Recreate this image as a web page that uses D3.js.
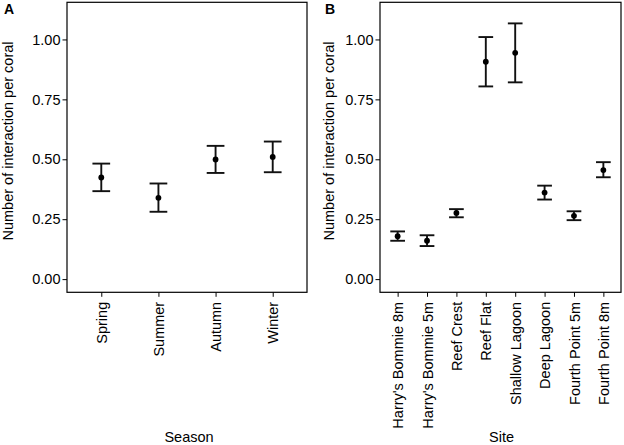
<!DOCTYPE html>
<html>
<head>
<meta charset="utf-8">
<script src="https://cdn.jsdelivr.net/npm/d3@7"></script>
<style>
  body { margin: 0; background: #fff; }
  svg text { font-family: "Liberation Sans", Arial, sans-serif; fill: #000; }
</style>
</head>
<body>
<svg id="chart" width="624" height="445"></svg>
<script>
// panel A: season means with error bars
const seasons = ['Spring', 'Summer', 'Autumn', 'Winter'];
const seasonMean = [0.424, 0.339, 0.499, 0.510];
const seasonLow = [0.367, 0.281, 0.443, 0.446];
const seasonHigh = [0.482, 0.399, 0.556, 0.574];

// panel B: site means with error bars
const sites = ["Harry's Bommie 8m", "Harry's Bommie 5m", 'Reef Crest', 'Reef Flat',
  'Shallow Lagoon', 'Deep Lagoon', 'Fourth Point 5m', 'Fourth Point 8m'];
const siteMean = [0.179, 0.160, 0.276, 0.907, 0.944, 0.361, 0.264, 0.455];
const siteLow = [0.160, 0.138, 0.258, 0.804, 0.821, 0.332, 0.246, 0.425];
const siteHigh = [0.199, 0.183, 0.292, 1.010, 1.067, 0.390, 0.283, 0.488];

const yTicks = [0, 0.25, 0.5, 0.75, 1];
const yTitle = 'Number of interaction per coral';

const svg = d3.select('#chart');
const plotTop = 2.3;
const plotBottom = 292.3;

const y = d3.scaleLinear().domain([-0.055, 1.155]).range([plotBottom, plotTop]);

function drawPanel(opts) {
  const g = svg.append('g');
  const x = d3.scalePoint()
    .domain(opts.cats)
    .range([opts.left, opts.right])
    .padding(0.6);
  const unit = x.step();

  // y axis ticks + labels
  const yAxis = g.append('g')
    .attr('transform', `translate(${opts.left},0)`)
    .call(d3.axisLeft(y).tickValues(yTicks).tickFormat(d3.format('.2f')).tickSizeOuter(0).tickSize(4.5).tickPadding(2));
  yAxis.select('.domain').remove();
  yAxis.selectAll('line').attr('stroke', '#000').attr('stroke-width', 1);
  yAxis.selectAll('text').style('font-size', '14.5px').attr('fill', '#000');

  // x axis ticks + rotated labels
  const xAxis = g.append('g')
    .attr('transform', `translate(0,${plotBottom})`)
    .call(d3.axisBottom(x).tickSizeOuter(0).tickSize(4.5));
  xAxis.select('.domain').remove();
  xAxis.selectAll('line').attr('stroke', '#000').attr('stroke-width', 1);
  xAxis.selectAll('text')
    .style('font-size', '14.5px')
    .attr('fill', '#000')
    .attr('text-anchor', 'end')
    .attr('x', 0)
    .attr('y', 0)
    .attr('dy', '0.35em')
    .attr('transform', 'translate(0,9.5) rotate(-90)');

  // panel border
  g.append('rect')
    .attr('x', opts.left)
    .attr('y', plotTop)
    .attr('width', opts.right - opts.left)
    .attr('height', plotBottom - plotTop)
    .attr('fill', 'none')
    .attr('stroke', '#000')
    .attr('stroke-width', 1.2);

  const rows = opts.cats.map((c, i) => ({
    cat: c, mean: opts.mean[i], low: opts.low[i], high: opts.high[i],
  }));
  const half = (opts.capWidth * unit) / 2;

  const bars = g.append('g')
    .attr('stroke', '#111')
    .attr('stroke-width', 1.9);
  bars.selectAll('.stem').data(rows).enter().append('line')
    .attr('x1', (d) => x(d.cat)).attr('x2', (d) => x(d.cat))
    .attr('y1', (d) => y(d.low)).attr('y2', (d) => y(d.high));
  bars.selectAll('.capHi').data(rows).enter().append('line')
    .attr('x1', (d) => x(d.cat) - half).attr('x2', (d) => x(d.cat) + half)
    .attr('y1', (d) => y(d.high)).attr('y2', (d) => y(d.high));
  bars.selectAll('.capLo').data(rows).enter().append('line')
    .attr('x1', (d) => x(d.cat) - half).attr('x2', (d) => x(d.cat) + half)
    .attr('y1', (d) => y(d.low)).attr('y2', (d) => y(d.low));

  g.selectAll('.pt').data(rows).enter().append('circle')
    .attr('cx', (d) => x(d.cat))
    .attr('cy', (d) => y(d.mean))
    .attr('r', 2.9)
    .attr('fill', '#000');

  // titles
  g.append('text')
    .attr('transform', `translate(${opts.yTitleX},141) rotate(-90)`)
    .attr('text-anchor', 'middle')
    .style('font-size', '14.5px')
    .text(yTitle);

  g.append('text')
    .attr('x', (opts.left + opts.right) / 2 + opts.xTitleShift)
    .attr('y', 441.5)
    .attr('text-anchor', 'middle')
    .style('font-size', '14.5px')
    .text(opts.xTitle);

  g.append('text')
    .attr('x', opts.tagX)
    .attr('y', 14)
    .style('font-size', '14px')
    .style('font-weight', 'bold')
    .text(opts.tag);
}

drawPanel({
  cats: seasons, mean: seasonMean, low: seasonLow, high: seasonHigh,
  left: 67, right: 307, capWidth: 0.31,
  yTitleX: 13.3, xTitle: 'Season', xTitleShift: 2, tag: 'A', tagX: 4,
});

drawPanel({
  cats: sites, mean: siteMean, low: siteLow, high: siteHigh,
  left: 380, right: 621, capWidth: 0.5,
  yTitleX: 333.5, xTitle: 'Site', xTitleShift: 1, tag: 'B', tagX: 325,
});
</script>
</body>
</html>
